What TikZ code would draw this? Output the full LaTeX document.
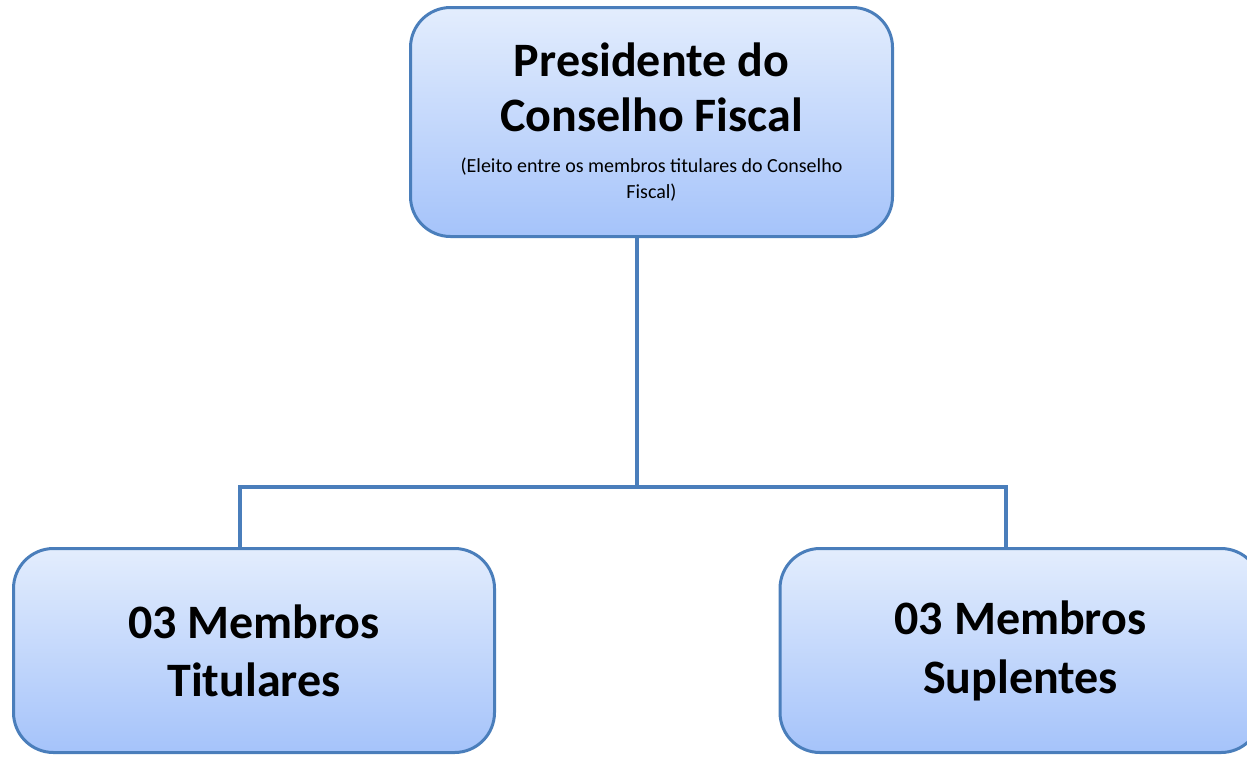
\documentclass[tikz,border=0pt]{standalone}
\usepackage{fontspec}
\setmainfont{Carlito}
\definecolor{boxline}{HTML}{4A7EBB}
\definecolor{topfill}{HTML}{E3EDFD}
\definecolor{botfill}{HTML}{A5C3FA}
\begin{document}
\begin{tikzpicture}[x=1pt,y=-1pt]
\tikzset{
  orgbox/.style={draw=boxline, line width=3pt, rounded corners=40pt,
    top color=topfill, bottom color=botfill, inner sep=0pt, align=flush center,
    text width=470pt},
  conn/.style={draw=boxline, line width=3.2pt}
}
\useasboundingbox (0,0) rectangle (1247,756);
\begin{scope}
\clip (0,0) rectangle (1247,756);
\node[orgbox, minimum width=482pt, minimum height=229pt] (pres) at (651.5,122)
  {{\fontsize{48}{55}\selectfont\bfseries Presidente do\\ Conselho Fiscal\par}
   \vspace{15pt}
   {\fontsize{20}{26}\selectfont (Eleito entre os membros titulares do Conselho\\ Fiscal)\par}};
\node[orgbox, minimum width=481pt, minimum height=204pt] (tit) at (254,650.5)
  {{\fontsize{48}{58}\selectfont\bfseries 03 Membros\\ Titulares\par}};
\node[orgbox, minimum width=481pt, minimum height=204pt] (sup) at (1020.5,650.5)
  {{\fontsize{48}{59}\selectfont\bfseries 03 Membros\\ Suplentes\par}};
\end{scope}
\coordinate (jm) at (637,487);
\coordinate (jl) at (240,487);
\coordinate (jr) at (1006,487);
\draw[conn] (pres.south -| jm) -- (jm);
\draw[conn] (tit.north -| jl) -- (jl) -- (jr) -- (sup.north -| jr);
\end{tikzpicture}
\end{document}
